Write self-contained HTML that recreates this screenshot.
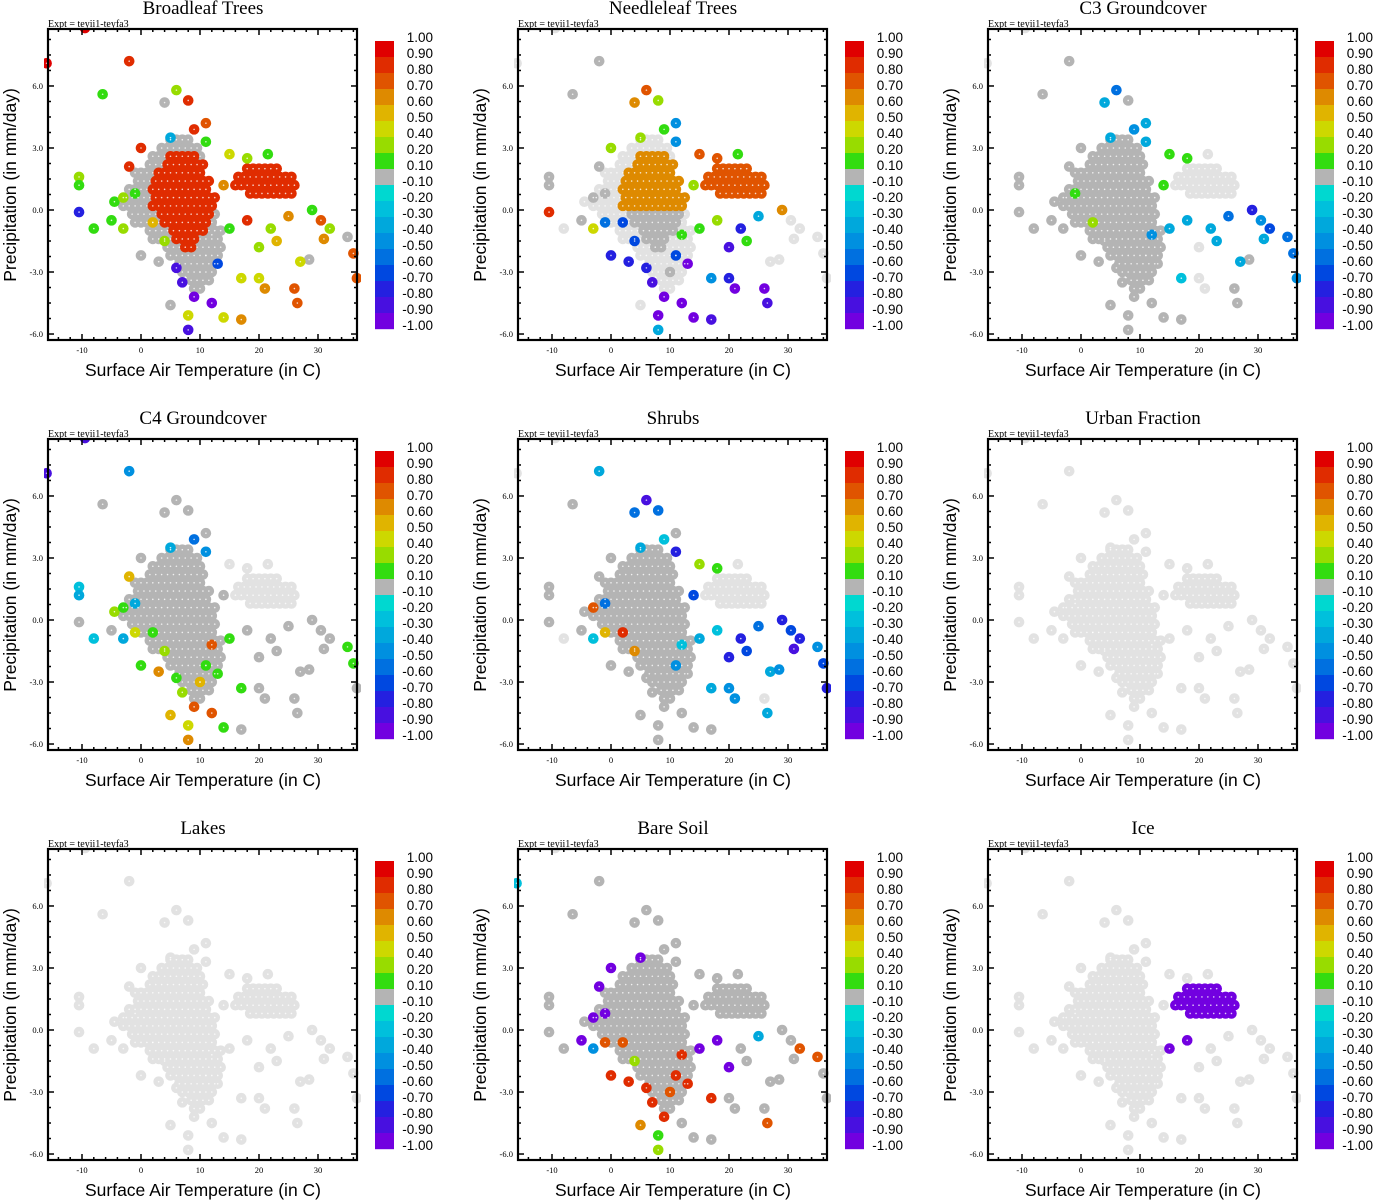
<!DOCTYPE html>
<html><head><meta charset="utf-8"><style>
html,body{margin:0;padding:0;background:#fff}
svg{display:block}
.ttl{font-family:"Liberation Serif",serif;font-size:19px}
.expt{font-family:"Liberation Serif",serif;font-size:10px}
.tk{font-family:"Liberation Serif",serif;font-size:8.5px}
.ax{font-family:"Liberation Sans",sans-serif;font-size:17.5px}
.cb{font-family:"Liberation Sans",sans-serif;font-size:13.5px}
</style></head><body>
<svg id="fig" width="1373" height="1200" viewBox="0 0 1373 1200" xmlns="http://www.w3.org/2000/svg"></svg>
<script>
// ---- data ----
const panelTitles = ["Broadleaf Trees","Needleleaf Trees","C3 Groundcover","C4 Groundcover","Shrubs","Urban Fraction","Lakes","Bare Soil","Ice"];
const xTicks = [-10,0,10,20,30];
const yTicks = [6,3,0,-3,-6];
const yTickLabels = ["6.0","3.0","0.0","-3.0","-6.0"];
const cbLabels = ["1.00","0.90","0.80","0.70","0.60","0.50","0.40","0.20","0.10","-0.10","-0.20","-0.30","-0.40","-0.50","-0.60","-0.70","-0.80","-0.90","-1.00"];
const cbColors = ["#e00000","#e02c00","#e05400","#de8a00","#e0b400","#cdd800","#98dc00","#32dc10","#b4b4b4","#00d8d0","#00c0dc","#00a8dc","#0090e0","#0070e0","#0048e0","#2420e0","#4810e0","#7200e0"];
// main cloud: rows [precip, Tmin, Tmax] (1 C steps)
const clusterARows = [[3.4,5,8],[3.0,3,9],[2.6,2,10],[2.2,1,10],[1.8,-1,10],[1.4,-1,11],[1.0,-2,11],[0.6,-3,12],[0.2,-3,12],[-0.2,-2,12],[-0.6,0,12],[-1.0,1,13],[-1.4,2,13],[-1.8,4,13],[-2.2,5,13],[-2.6,6,12],[-3.0,7,12],[-3.4,8,11],[-3.8,9,10]];
// core of main cloud: rows [precip, Tmin, Tmax]
const coreRows = [[2.6,5,9],[2.2,4,10],[1.8,3,10],[1.4,2,11],[1.0,2,11],[0.6,2,12],[0.2,2,12],[-0.2,3,11],[-0.6,4,11],[-1.0,5,10],[-1.4,6,9],[-1.8,7,8]];
const clusterBRows = [[2.0,18,23],[1.6,16,25],[1.2,16,26],[0.8,18,25]];
const outT = [-16,-9.5,-2,-6.5,6,4,8,11,-10.5,-10.5,-10.5,-8,-4.5,-5,-3,-3,-1,0,3,5,8,8,12,14,17,17,20,21,20,15,18,22,23,25,26,26.5,27,28.5,29,30.5,31,32,35,36,36.6,18,21.5,15,14,11,9,5,0,-2,-1,2,6,7,9,11,13,10,4,12];
const outP = [7.1,8.8,7.2,5.6,5.8,5.2,5.3,4.2,1.6,1.2,-0.1,-0.9,0.4,-0.5,-0.9,0.6,-0.6,-2.2,-2.5,-4.6,-5.1,-5.8,-4.5,-5.2,-5.3,-3.3,-3.3,-3.8,-1.8,-0.9,-0.5,-0.9,-1.5,-0.3,-3.8,-4.5,-2.5,-2.4,0,-0.5,-1.4,-0.9,-1.3,-2.1,-3.3,2.5,2.7,2.7,1.2,3.3,3.9,3.5,3,2.1,0.8,-0.6,-2.8,-3.5,-4.2,-2.2,-2.6,-3,-1.5,-1.2];
// per panel cluster values: [coreUpper, coreLower, rim, clusterB]
const clusterVals = [[0.85,0.85,0,0.85],[0.6,0,null,0.75],[0,0,0,null],[0,0,0,null],[0,0,0,null],[null,null,null,null],[null,null,null,null],[0,0,0,0],[null,null,null,-0.95]];
const N=null;
const outV0 = [0.9,0.9,0.85,0.15,0.3,0,0.85,0.75,0.3,0.15,-0.7,0.15,0.15,0.15,0.3,0.3,0,0,0,0,0.45,-0.8,-0.9,0.45,0.65,0.45,0.45,0.65,0.3,0.15,0.85,0.3,0.55,0.65,0.75,0.75,0.45,0,0.15,0.75,0.65,0.3,0,0.75,0.75,0.3,0.15,0.45,0.65,0.15,0.85,-0.3,0.85,0.85,0.15,0.55,-0.85,-0.85,-0.9,0,-0.6,0,0.3,0];
const outV1 = [N,N,0,0,0.75,0.6,0.3,-0.4,0,0,0.85,N,N,0,0.4,0,-0.5,-0.7,-0.7,N,-0.9,-0.3,-0.9,-0.9,-0.8,-0.4,-0.7,-0.9,-0.8,0.15,0.3,-0.7,0.15,-0.3,-0.9,-0.8,N,N,0.6,N,N,N,N,N,N,0.75,0.15,0.75,0.3,-0.4,0.15,0.3,0.3,0,0,-0.6,-0.7,-0.8,-0.9,-0.6,-0.9,0,-0.6,0.15];
const outV2 = [N,N,0,0,-0.5,-0.3,0,-0.3,0,0,0,0,0,0,0,0,0,0,0,0,0,0,0,0,0,-0.2,N,N,N,-0.3,-0.3,-0.3,-0.3,-0.5,0,0,-0.3,0,-0.7,-0.4,-0.3,-0.6,-0.5,-0.5,-0.4,0.15,N,0.15,0.15,-0.3,-0.4,-0.3,0,0,0.15,0.2,0,0,0,0,0,0,0,-0.4];
const outV3 = [-0.85,-0.8,-0.4,0,0,0,0,0,-0.2,-0.3,0,-0.2,0.3,0,-0.3,0.15,0.4,0.15,0.6,0.55,0.4,0.6,0.75,0.15,0,0.15,0,0,0,0.15,0,0,0,0,0,0,0,0,0,0,0,0,0.15,0.15,0,N,N,N,0,-0.4,-0.5,-0.3,0,0.5,-0.3,0.15,0.15,0.3,0.75,0.15,0.15,0.5,0.2,0.75];
const outV4 = [N,N,-0.3,0,-0.8,-0.5,-0.5,0,0,0,0,N,0,0,-0.2,0.75,0.5,0,0,0,0,0,0,0,0,-0.3,-0.4,-0.4,-0.7,-0.3,-0.2,-0.7,-0.6,-0.5,N,-0.3,-0.3,-0.4,-0.7,-0.6,-0.8,-0.7,-0.4,-0.6,-0.7,0.15,N,0.2,-0.6,-0.7,-0.2,-0.3,0,0,-0.5,0.85,0,0,0,-0.4,0,0,0.6,-0.2];
const outV5 = outT.map(()=>null);
const outV6 = outT.map(()=>null);
const outV7 = [-0.2,N,0,0,0,0,0,0,0,0,0,0,0,-0.9,-0.4,-0.9,0.75,0.85,0.85,0.65,0.15,0.2,0,0,0,0.85,0,0,-0.9,-0.9,-0.9,0,0,-0.3,0,0.75,0,0,0,0,0,0.75,0.75,0,0,0,0,0,0,0,0,-0.9,-0.9,-0.9,-0.9,0.75,0.85,0.85,0.85,0.85,0.85,0.75,0.3,0.85];
const outV8 = [N,N,N,N,N,N,N,N,N,N,N,N,N,N,N,N,N,N,N,N,N,N,N,N,N,N,N,N,N,-0.95,-0.95,N,N,N,N,N,N,N,N,N,N,N,N,N,N,N,N,N,N,N,N,N,N,N,N,N,N,N,N,N,N,N,N,N];
const outVals = [outV0,outV1,outV2,outV3,outV4,outV5,outV6,outV7,outV8];

// ---- drawing ----
const NS="http://www.w3.org/2000/svg";
const svg=document.getElementById('fig');
function mk(tag,attrs,parent){const e=document.createElementNS(NS,tag);for(const k in attrs)e.setAttribute(k,attrs[k]);(parent||svg).appendChild(e);return e;}
const X0=48,X1=357,Y0=29,Y1=340;
const xScale=t=>141+(t-0)*5.9;
const yScale=p=>210-p*20.67;
function colorOf(v){
  if(v===null||v===undefined)return "#e2e2e2";
  if(v>=0.9)return cbColors[0];if(v>=0.8)return cbColors[1];if(v>=0.7)return cbColors[2];if(v>=0.6)return cbColors[3];
  if(v>=0.5)return cbColors[4];if(v>=0.4)return cbColors[5];if(v>=0.2)return cbColors[6];if(v>=0.1)return cbColors[7];
  if(v>-0.1)return cbColors[8];if(v>-0.2)return cbColors[9];if(v>-0.3)return cbColors[10];if(v>-0.4)return cbColors[11];
  if(v>-0.5)return cbColors[12];if(v>-0.6)return cbColors[13];if(v>-0.7)return cbColors[14];if(v>-0.8)return cbColors[15];
  if(v>-0.9)return cbColors[16];return cbColors[17];
}
function rank(v){return v===null?0:(Math.abs(v)<0.1?1:2);}
function inCore(T,P){return coreRows.some(r=>Math.abs(r[0]-P)<0.01&&T>=r[1]&&T<=r[2]+0.5);}

panelTitles.forEach((title,pi)=>{
  const ox=(pi%3)*470, oy=Math.floor(pi/3)*410;
  const g=mk('g',{transform:`translate(${ox},${oy})`});
  
  
  const t=mk('text',{x:203,y:14,'text-anchor':'middle',class:'ttl'},g);t.textContent=title;
  
  
  const ex=mk('text',{x:48,y:27,class:'expt'},g);ex.textContent="Expt = teyii1-teyfa3";
  
  
  const cp=mk('clipPath',{id:'clip'+pi},g);mk('rect',{x:X0-4,y:Y0,width:X1-X0+8,height:Y1-Y0},cp);
  const pts=[];
  const cv=clusterVals[pi];
  clusterARows.forEach((r,ri)=>{const off=(ri%2)*0.5;for(let T=r[1];T<=r[2];T++){const tt=T+off;const core=inCore(T,r[0]);const v=core?(r[0]>=0?cv[0]:cv[1]):cv[2];pts.push([tt,r[0],v]);}});
  clusterBRows.forEach((r,ri)=>{const off=(ri%2)*0.5;for(let T=r[1];T<=r[2];T++)pts.push([T+off,r[0],cv[3]]);});
  outT.forEach((T,i)=>pts.push([T,outP[i],outVals[pi][i]]));
  pts.sort((a,b)=>rank(a[2])-rank(b[2]));
  const pg=mk('g',{'clip-path':`url(#clip${pi})`},g);
  
  
  pts.forEach(p=>{
    const c=mk('circle',{cx:xScale(p[0]),cy:yScale(p[1]),r:5.3,fill:colorOf(p[2])},pg);
    
    
  });
  pts.forEach(p=>{mk('circle',{cx:xScale(p[0]),cy:yScale(p[1]),r:0.8,fill:'#fff','fill-opacity':0.8},pg);});
  const fr=mk('rect',{x:X0,y:Y0,width:X1-X0,height:Y1-Y0,fill:'none',stroke:'#000','stroke-width':2.2},g);
  
  
  for(let T=-14;T<=36;T+=2){const x=xScale(T);const maj=xTicks.includes(T);const L=maj?6:3;
    mk('line',{x1:x,x2:x,y1:Y1,y2:Y1-L,stroke:'#000','stroke-width':1.5},g);
    mk('line',{x1:x,x2:x,y1:Y0,y2:Y0+L,stroke:'#000','stroke-width':1.5},g);}
  xTicks.forEach(T=>{const tx=mk('text',{x:xScale(T),y:353,'text-anchor':'middle',class:'tk'},g);tx.textContent=T;
    
    });
  for(let P=-6;P<=8.5;P+=0.75){const y=yScale(P);const maj=Math.abs(P%3)<1e-6;const L=maj?6:3;
    mk('line',{x1:X0,x2:X0+L,y1:y,y2:y,stroke:'#000','stroke-width':1.5},g);
    mk('line',{x1:X1,x2:X1-L,y1:y,y2:y,stroke:'#000','stroke-width':1.5},g);}
  yTicks.forEach((P,i)=>{const ty=mk('text',{x:43,y:yScale(P)+3,'text-anchor':'end',class:'tk'},g);ty.textContent=yTickLabels[i];
    
    });
  const xt=mk('text',{x:203,y:376,'text-anchor':'middle',class:'ax'},g);xt.textContent="Surface Air Temperature (in C)";
  
  
  const yt=mk('text',{x:0,y:0,'text-anchor':'middle',class:'ax',transform:'translate(16,185) rotate(-90)'},g);yt.textContent="Precipitation (in mm/day)";
  
  
  const cb=mk('g',{},g);
  
  
  cbColors.forEach((c,i)=>{mk('rect',{x:375,y:41+i*16,width:19,height:16.2,fill:c},cb);});
  cbLabels.forEach((l,i)=>{const tl=mk('text',{x:433,y:42+i*16,'text-anchor':'end',class:'cb'},cb);tl.textContent=l;
    
    });
});
</script>
</body></html>
